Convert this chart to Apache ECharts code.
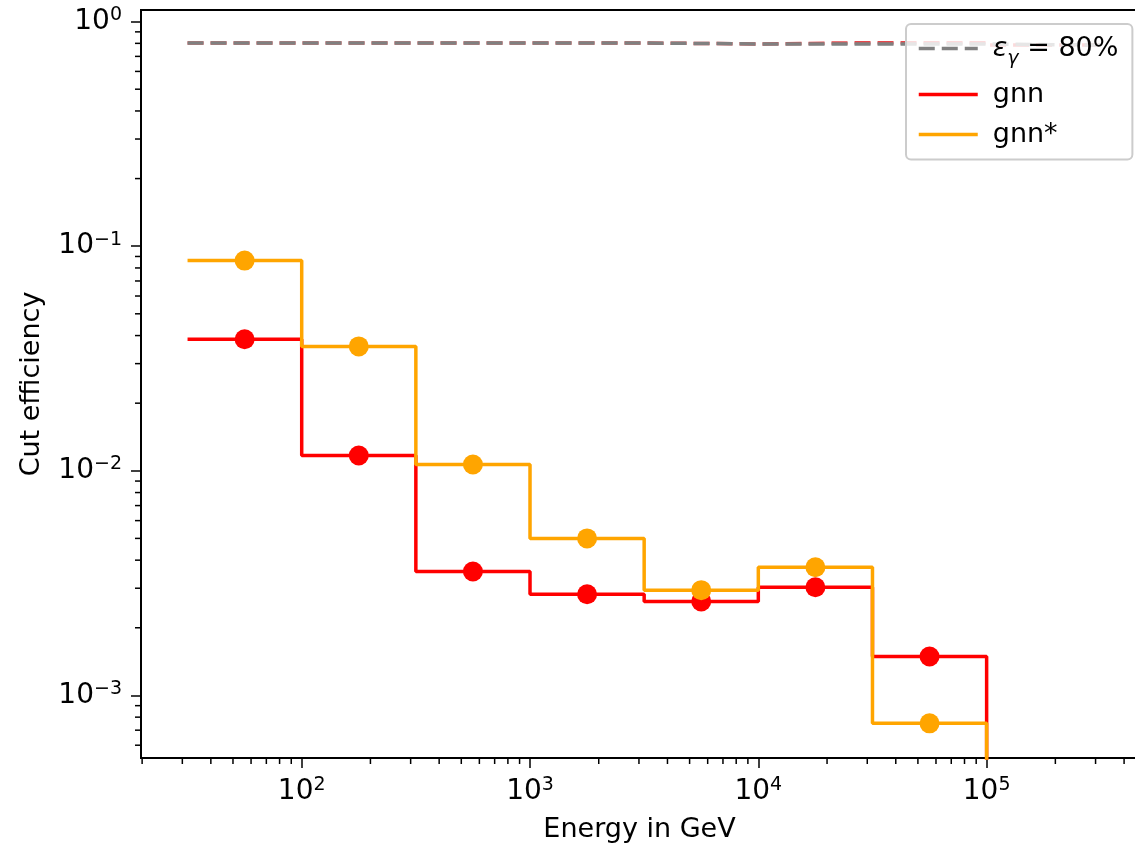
<!DOCTYPE html>
<html><head><meta charset="utf-8">
<script src="https://cdn.jsdelivr.net/npm/echarts@6/dist/echarts.min.js"></script>
<style>html,body{margin:0;padding:0;background:#fff}#c{width:1135px;height:845px}</style>
</head><body><div id="c"></div>
<script>
// ---- data ----
const binEdges = [31.62, 100, 316.2, 1000, 3162, 10000, 31623, 100000];
const binCenters = [56.23, 177.8, 562.3, 1778, 5623, 17783, 56234];
const gnnValues = [0.0385, 0.0117, 0.00356, 0.00282, 0.00262, 0.00303, 0.00149];
const gnnStarValues = [0.0863, 0.0358, 0.01067, 0.0050, 0.00294, 0.00372, 0.000751];
const cutEdges = [31.62, 100, 316.2, 1000, 3162, 10000, 31623, 100000, 316228];
const grayCutValues = [0.803, 0.803, 0.803, 0.803, 0.795, 0.795, 0.795, 0.786];
const redCutValues = [0.803, 0.803, 0.803, 0.803, 0.795, 0.806, 0.806, 0.786];
const xMinorTicks = [20,30,40,50,60,70,80,90,200,300,400,500,600,700,800,900,2000,3000,4000,5000,6000,7000,8000,9000,
  20000,30000,40000,50000,60000,70000,80000,90000,200000,300000,400000];
const yMinorTicks = [6e-4,7e-4,8e-4,9e-4,2e-3,3e-3,4e-3,5e-3,6e-3,7e-3,8e-3,9e-3,2e-2,3e-2,4e-2,5e-2,6e-2,7e-2,8e-2,9e-2,
  0.2,0.3,0.4,0.5,0.6,0.7,0.8,0.9];
const X_MIN = Math.pow(10, 1.2961), X_MAX = Math.pow(10, 5.663);
const Y_MIN = Math.pow(10, -3.2788), Y_MAX = Math.pow(10, 0.0516);
const seriesNames = ['εγ = 80%', 'gnn', 'gnn*'];

// ---- helpers ----
function stepData(edges, vals, drop) {
  const d = vals.map((v, i) => [edges[i], v]);
  d.push([edges[vals.length], vals[vals.length - 1]]);
  if (drop) d.push([edges[vals.length], 1e-7]);
  return d;
}
function powLabel(v) {
  const l = Math.log10(v), e = Math.round(l);
  if (Math.abs(l - e) > 1e-3) return '';
  return '{b|10}{s|' + (e < 0 ? '\u2212' + (-e) : e) + '}';
}
function tickSeries(data, dir) {
  return {
    type: 'custom', silent: true, clip: false, z: 10, data: data,
    renderItem: function (params, api) {
      const p = api.coord([api.value(0), api.value(1)]);
      const len = 6;
      return {
        type: 'line',
        shape: dir === 'x' ? {x1: p[0], y1: p[1], x2: p[0], y2: p[1] + len}
                           : {x1: p[0], y1: p[1], x2: p[0] - len, y2: p[1]},
        style: {stroke: '#000', lineWidth: 1.5}
      };
    }
  };
}
const FONT = 'DejaVu Sans';
const labelRich = {
  b: {fontFamily: FONT, fontSize: 28, color: '#000', lineHeight: 32},
  s: {fontFamily: FONT, fontSize: 19, color: '#000', lineHeight: 19, verticalAlign: 'top'}
};
const LW = 3.5;

const chart = echarts.init(document.getElementById('c'), null, {renderer: 'canvas'});
chart.setOption({
  animation: false,
  backgroundColor: '#fff',
  grid: {left: 141, right: -3, top: 10, bottom: 87, show: true, borderColor: '#000', borderWidth: 2,
         backgroundColor: 'transparent', containLabel: false, outerBoundsMode: 'none'},
  legend: {
    orient: 'vertical', left: 906, top: 24,
    padding: [11, 14, 11, 11], itemGap: 12, itemWidth: 59, itemHeight: 14,
    backgroundColor: 'rgba(255,255,255,0.8)', borderColor: '#cccccc', borderWidth: 2, borderRadius: 5,
    data: seriesNames,
    itemStyle: {opacity: 0},
    lineStyle: {width: LW},
    formatter: function (name) {
      if (name === seriesNames[0]) return '{i|ε}{g|γ}{t| = 80%}';
      return name;
    },
    textStyle: {
      fontFamily: FONT, fontSize: 27, color: '#000', lineHeight: 28, padding: [0, 0, 0, 10],
      rich: {
        i: {fontFamily: FONT, fontStyle: 'italic', fontSize: 27, lineHeight: 24, color: '#000'},
        g: {fontFamily: FONT, fontStyle: 'italic', fontSize: 19, lineHeight: 18, color: '#000', verticalAlign: 'bottom', padding: [0, 0, -8, 0]},
        t: {fontFamily: FONT, fontSize: 27, lineHeight: 24, color: '#000'}
      }
    }
  },
  xAxis: {
    type: 'log', min: X_MIN, max: X_MAX, logBase: 10,
    name: 'Energy in GeV', nameLocation: 'middle', nameGap: 58,
    nameTextStyle: {fontFamily: FONT, fontSize: 27, color: '#000', verticalAlign: 'top'},
    axisLine: {show: true, onZero: false, lineStyle: {color: '#000', width: 2}},
    axisTick: {show: true, inside: false, length: 10, lineStyle: {color: '#000', width: 1.5}},
    axisLabel: {formatter: powLabel, margin: 18, rich: labelRich, showMinLabel: false, showMaxLabel: false},
    splitLine: {show: false}, minorTick: {show: false}
  },
  yAxis: {
    type: 'log', min: Y_MIN, max: Y_MAX, logBase: 10,
    name: 'Cut efficiency', nameLocation: 'middle', nameGap: 96,
    nameTextStyle: {fontFamily: FONT, fontSize: 27, color: '#000'},
    axisLine: {show: true, onZero: false, lineStyle: {color: '#000', width: 2}},
    axisTick: {show: true, inside: false, length: 10, lineStyle: {color: '#000', width: 1.5}},
    axisLabel: {formatter: powLabel, margin: 19, rich: labelRich, showMinLabel: false, showMaxLabel: false},
    splitLine: {show: false}, minorTick: {show: false}
  },
  series: [
    {name: 'redcut', type: 'line', step: 'end', symbol: 'none', data: stepData(cutEdges, redCutValues, false),
     lineStyle: {color: '#e8474b', width: LW, type: [16, 7]}, itemStyle: {color: '#e8474b'}, z: 2},
    {name: seriesNames[0], type: 'line', step: 'end', symbol: 'none', data: stepData(cutEdges, grayCutValues, false),
     lineStyle: {color: '#808080', width: LW, type: [16, 7]}, itemStyle: {color: '#808080'}, z: 3},
    {name: seriesNames[1], type: 'line', step: 'end', symbol: 'none', data: stepData(binEdges, gnnValues, true),
     lineStyle: {color: '#ff0000', width: LW}, itemStyle: {color: '#ff0000'}, z: 4},
    {name: seriesNames[2], type: 'line', step: 'end', symbol: 'none', data: stepData(binEdges, gnnStarValues, true),
     lineStyle: {color: '#ffa500', width: LW}, itemStyle: {color: '#ffa500'}, z: 5},
    {name: 'gnnPts', type: 'scatter', symbol: 'circle', symbolSize: 20, data: binCenters.map((c, i) => [c, gnnValues[i]]),
     itemStyle: {color: '#ff0000', opacity: 1}, z: 6},
    {name: 'gnnStarPts', type: 'scatter', symbol: 'circle', symbolSize: 20, data: binCenters.map((c, i) => [c, gnnStarValues[i]]),
     itemStyle: {color: '#ffa500', opacity: 1}, z: 7},
    tickSeries(xMinorTicks.map(v => [v, Y_MIN]), 'x'),
    tickSeries(yMinorTicks.map(v => [X_MIN, v]), 'y')
  ]
});
</script></body></html>
